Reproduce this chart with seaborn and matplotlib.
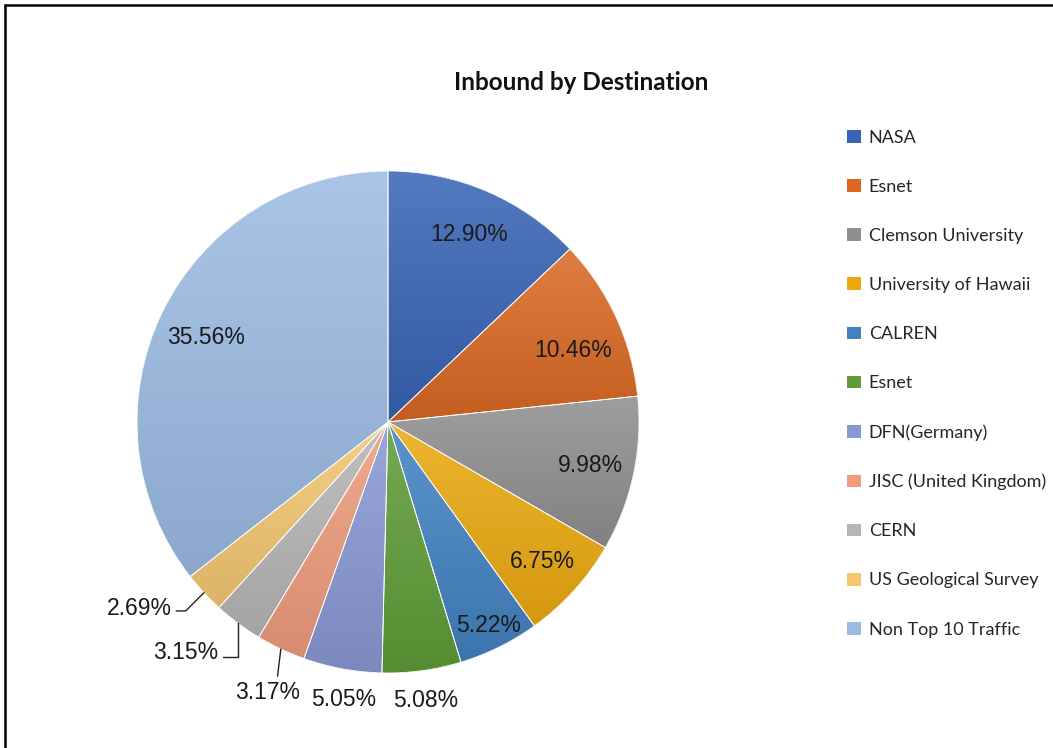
import numpy as np
import matplotlib
matplotlib.use("Agg")
import matplotlib.pyplot as plt
import seaborn as sns
from matplotlib.colors import to_rgb
from matplotlib.patches import Patch
from matplotlib.lines import Line2D

# ---- data ----
destinations = ["NASA", "Esnet", "Clemson University", "University of Hawaii", "CALREN",
                "Esnet", "DFN(Germany)", "JISC (United Kingdom)", "CERN",
                "US Geological Survey", "Non Top 10 Traffic"]
shares = [12.90, 10.46, 9.98, 6.75, 5.22, 5.08, 5.05, 3.17, 3.15, 2.69, 35.56]
pct_labels = ["12.90%", "10.46%", "9.98%", "6.75%", "5.22%", "5.08%", "5.05%",
              "3.17%", "3.15%", "2.69%", "35.56%"]
colors = ["#3763B4", "#DA6823", "#8F8F8F", "#EBA90F", "#4282C2", "#5F9C37",
          "#8898D4", "#EE9C7D", "#B6B6B6", "#F4C772", "#9BBBE3"]
title = "Inbound by Destination"

# label layout: (radial distance, clockwise angle offset in deg, connection style or None)
label_layout = [
    (0.815, 0.0, None),
    (0.79, 3.5, None),
    (0.825, 0.0, None),
    (0.83, 0.0, None),
    (0.905, 0.0, None),
    (1.12, 0.0, None),
    (1.12, -1.3, None),
    (1.18, -1.2, ("arc3", (0.65, 1.0))),
    (1.22, 4.6, ("angle,angleA=0,angleB=90,rad=0", (1.0, 0.3))),
    (1.24, 6.0, ("angle,angleA=0,angleB=45,rad=0", (1.0, 0.4))),
    (0.80, -1.2, None),
]

sns.set_theme(style="white")
plt.rcParams['font.family'] = ['Liberation Sans', 'DejaVu Sans']

W, H = 1053, 748
fig = plt.figure(figsize=(W / 100, H / 100), dpi=100)
fig.patch.set_facecolor("white")

cx, cy, R = 388, 422, 251
ax = fig.add_axes([(cx - R) / W, (H - cy - R) / H, 2 * R / W, 2 * R / H])

wedges, _ = ax.pie(shares, colors=colors, startangle=90, counterclock=False,
                   radius=1.0, wedgeprops=dict(linewidth=0))

# gradient shading per wedge (lighter at top, darker at bottom)
def mix(c, t, amt):
    return tuple(np.array(c) * (1 - amt) + np.array(t) * amt)

for w, col in zip(wedges, colors):
    base = np.array(to_rgb(col))
    top = mix(base, (1, 1, 1), 0.14)
    bot = mix(base, (0, 0, 0), 0.10)
    ext = w.get_path().get_extents()
    n = 128
    tt = np.linspace(0, 1, n)[:, None]
    img = np.ones((n, 2, 4))
    for k in range(3):
        img[:, :, k] = (np.array(top)[k] * (1 - tt) + np.array(bot)[k] * tt)
    im = ax.imshow(img, extent=[ext.x0, ext.x1, ext.y0, ext.y1], origin="upper",
                   aspect="auto", interpolation="bilinear", zorder=2)
    im.set_clip_path(w)

# thin white separators
ax.pie(shares, startangle=90, counterclock=False, radius=1.0,
       wedgeprops=dict(facecolor="none", edgecolor="white", linewidth=0.6, zorder=3))

ax.set_xlim(-1, 1)
ax.set_ylim(-1, 1)
ax.set_aspect("auto")
ax.axis("off")

for w, lab, (d, off, conn) in zip(wedges, pct_labels, label_layout):
    mid = np.deg2rad((w.theta1 + w.theta2) / 2.0)
    lab_ang = mid - np.deg2rad(off)
    tx, ty = d * np.cos(lab_ang), d * np.sin(lab_ang)
    if conn is None:
        ax.text(tx, ty, lab, ha="center", va="center", fontsize=16.5,
                color="#1a1a1a", zorder=5)
    else:
        style, relpos = conn
        ex, ey = np.cos(mid), np.sin(mid)
        ax.annotate(lab, xy=(ex, ey), xytext=(tx, ty), ha="center", va="center",
                    fontsize=16.5, color="#1a1a1a", zorder=5, annotation_clip=False,
                    arrowprops=dict(arrowstyle="-", color="#222222", lw=1.0,
                                    connectionstyle=style, relpos=relpos,
                                    shrinkA=1, shrinkB=0))

fig.text(581 / W, 1 - 82 / H, title, ha="center", va="center", fontsize=17.5,
         fontweight="bold", family=["Lato", "DejaVu Sans"], color="#111111")

handles = [Patch(facecolor=c, edgecolor="none") for c in colors]
fig.legend(handles, destinations, loc="upper left",
           bbox_to_anchor=(847 / W, 1 - 130 / H), frameon=False,
           prop=dict(family=["Lato", "DejaVu Sans"], size=13),
           handlelength=0.75, handleheight=0.7, handletextpad=0.45,
           labelspacing=1.83, borderaxespad=0, borderpad=0)

# chart border (top and left visible)
fig.add_artist(Line2D([5 / W, 5 / W], [0, 1 - 5 / H], transform=fig.transFigure,
                      color="black", lw=1.8))
fig.add_artist(Line2D([5 / W, 1], [1 - 5 / H, 1 - 5 / H], transform=fig.transFigure,
                      color="black", lw=1.8))

fig.savefig("out.png", dpi=100, facecolor="white")
